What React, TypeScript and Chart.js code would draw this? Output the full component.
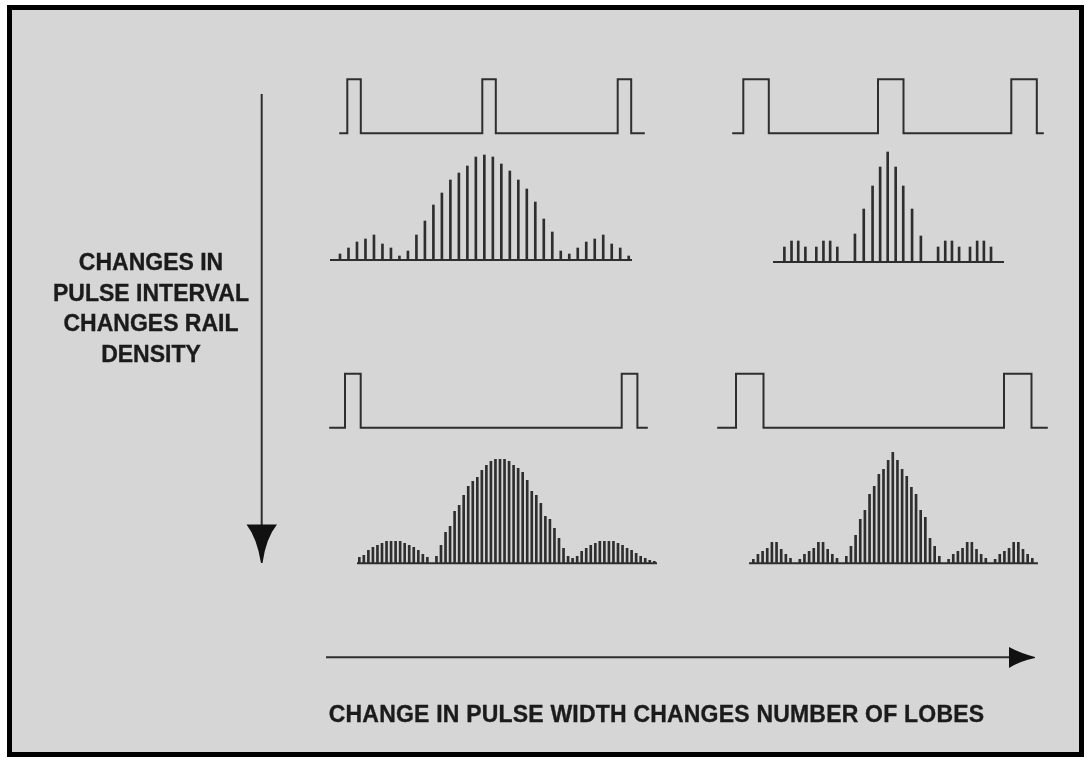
import React, { useEffect, useRef } from "react";
import { Chart, registerables } from "chart.js";
Chart.register(...registerables);

// ================= DATA =================
// Pulse trains: rising-edge times and pulse width (time units)
const tlPulseStarts = [0, 135, 270.4];
const tlPulseWidth = 13.5;
const trPulseStarts = [0, 134.7, 268];
const trPulseWidth = 25.5;
const blPulseStarts = [0, 276.7];
const blPulseWidth = 15.7;
const brPulseStarts = [0, 268];
const brPulseWidth = 27.5;

// Spectra: harmonic positions and line amplitudes
const tlHarmonics = [-17, -16, -15, -14, -13, -12, -11, -10, -9, -8, -7, -6, -5, -4, -3, -2, -1, 0, 1, 2, 3, 4, 5, 6, 7, 8, 9, 10, 11, 12, 13, 14, 15, 16, 17];
const tlAmplitudes = [6, 12, 18, 21, 25, 16, 12, 4, 9, 25, 39, 55, 67, 80, 87, 94, 103, 105, 103, 96, 89, 80, 71, 58, 41, 28, 9, 6, 12, 18, 21, 25, 16, 12, 4];

const trHarmonics = [-12.3, -11.45, -10.65, -9.8, -8.5, -7.65, -6.85, -6.0, -3.9, -2.85, -1.8, -0.9, 0, 0.95, 1.85, 2.9, 3.95, 6.0, 6.85, 7.65, 8.5, 9.8, 10.65, 11.45, 12.3];
const trAmplitudes = [15, 21, 21, 15, 15, 21, 21, 15, 28, 53, 76, 95, 110, 95, 76, 53, 26, 15, 21, 21, 15, 15, 21, 21, 15];

const blHarmonics = [0, 1, 2, 3, 4, 5, 6, 7, 8, 9, 10, 11, 12, 13, 14, 15, 16, 17, 18, 19, 20, 21, 22, 23, 24, 25, 26, 27, 28, 29, 30, 31, 32, 33, 34, 35, 36, 37, 38, 39, 40, 41, 42, 43, 44, 45, 46, 47, 48, 49, 50, 51, 52, 53, 54, 55, 56, 57, 58, 59, 60, 61, 62, 63, 64, 65];
const blAmplitudes = [
  6, 8, 13, 16, 18, 20, 22, 22, 22, 22, 20, 18, 16, 13, 9, 6,
  0,
  7, 18, 31, 37, 52, 58, 68, 77, 82, 86, 93, 98, 102, 104, 104, 104, 102, 98, 95, 91, 83, 72, 68, 60, 47, 44, 35, 25, 15, 7,
  5, 7, 12, 15, 18, 20, 22, 22, 22, 22, 20, 18, 15, 13, 10, 7, 5, 3, 2,
];

const brHarmonics = [0, 1, 2, 3, 4, 5, 6, 7, 8, 9, 10, 11, 12, 13, 14, 15, 16, 17, 18, 19, 20, 21, 22, 23, 24, 25, 26, 27, 28, 29, 30, 31, 32, 33, 34, 35, 36, 37, 38, 39, 40, 41, 42, 43, 44, 45, 46, 47, 48, 49, 50, 51, 52, 53, 54, 55, 56, 57, 58, 59, 60];
const brAmplitudes = [
  4, 9, 12, 15, 21, 21, 14, 9, 5,
  0,
  4, 9, 12, 15, 21, 21, 14, 9, 5,
  0,
  7, 17, 28, 44, 53, 69, 77, 89, 94, 103, 111, 103, 94, 87, 76, 69, 53, 46, 25, 17, 7,
  0,
  4, 9, 12, 15, 21, 21, 14, 9, 5,
  0,
  4, 9, 12, 15, 21, 21, 14, 9, 5,
];

const leftLabelLines = ["CHANGES IN", "PULSE INTERVAL", "CHANGES RAIL", "DENSITY"];
const bottomLabel = "CHANGE IN PULSE WIDTH CHANGES NUMBER OF LOBES";

// ================= STYLE / LAYOUT =================
const W = 1091;
const H = 763;
const BG = "#d6d6d6";
const INK = "#2e2e2e";
const FONT = "'Liberation Sans', Arial, sans-serif";

type Box = { left: number; top: number; width: number; height: number };

function axisRange(v0: number, p0: number, v1: number, p1: number, pStart: number, pEnd: number) {
  const k = (p1 - p0) / (v1 - v0);
  const a = v0 + (pStart - p0) / k;
  const b = v0 + (pEnd - p0) / k;
  return { min: Math.min(a, b), max: Math.max(a, b) };
}

const baselinePlugin = {
  id: "baseline",
  beforeDatasetsDraw(chart: any) {
    const { ctx, chartArea, scales } = chart;
    const y = scales.y.getPixelForValue(0);
    ctx.save();
    ctx.strokeStyle = INK;
    ctx.lineWidth = 2;
    ctx.beginPath();
    ctx.moveTo(chartArea.left, y);
    ctx.lineTo(chartArea.right, y);
    ctx.stroke();
    ctx.restore();
  },
};

const baseOptions = {
  animation: false,
  responsive: false,
  devicePixelRatio: 1,
  events: [],
  layout: { padding: 0 },
  plugins: { legend: { display: false }, tooltip: { enabled: false }, title: { display: false } },
};

function spectrumConfig(
  harmonics: number[],
  amps: number[],
  box: Box,
  xa: [number, number, number, number],
  baselineY: number
) {
  const xr = axisRange(xa[0], xa[1] - box.left, xa[2], xa[3] - box.left, 0, box.width);
  const yr = axisRange(0, baselineY - box.top, 100, baselineY - 100 - box.top, 0, box.height);
  return {
    type: "bar",
    data: {
      labels: harmonics,
      datasets: [
        {
          data: amps,
          backgroundColor: INK,
          borderWidth: 0,
          barThickness: 2,
        },
      ],
    },
    options: {
      ...baseOptions,
      scales: {
        x: { type: "linear", display: false, min: xr.min, max: xr.max, offset: false },
        y: { type: "linear", display: false, min: yr.min, max: yr.max },
      },
    },
    plugins: [baselinePlugin],
  };
}

function pulseTrace(starts: number[], width: number, tFrom: number, tTo: number) {
  const pts: { x: number; y: number }[] = [{ x: tFrom, y: 0 }];
  for (const s of starts) {
    pts.push({ x: s, y: 0 }, { x: s, y: 1 }, { x: s + width, y: 1 }, { x: s + width, y: 0 });
  }
  pts.push({ x: tTo, y: 0 });
  return pts;
}

function pulseConfig(starts: number[], width: number, box: Box, t0px: number, baseY: number, topY: number) {
  const xr = axisRange(0, t0px - box.left, 100, t0px + 100 - box.left, 0, box.width);
  const yr = axisRange(0, baseY - box.top, 1, topY - box.top, 0, box.height);
  const tFrom = xr.min + 0.2;
  const tTo = xr.max - 0.2;
  return {
    type: "line",
    data: {
      datasets: [
        {
          data: pulseTrace(starts, width, tFrom, tTo),
          borderColor: INK,
          borderWidth: 2,
          pointRadius: 0,
          tension: 0,
          fill: false,
          borderJoinStyle: "miter",
        },
      ],
    },
    options: {
      ...baseOptions,
      scales: {
        x: { type: "linear", display: false, min: xr.min, max: xr.max },
        y: { type: "linear", display: false, min: yr.min, max: yr.max },
      },
    },
  };
}

const decorPlugin = {
  id: "decor",
  beforeDraw(chart: any) {
    const ctx = chart.ctx as CanvasRenderingContext2D;
    ctx.save();
    ctx.fillStyle = "#ffffff";
    ctx.fillRect(0, 0, W, H);
    // frame
    ctx.fillStyle = "#000000";
    ctx.fillRect(7, 5, 1077, 752);
    ctx.fillStyle = BG;
    ctx.fillRect(12, 10, 1067, 742);
    // vertical arrow
    ctx.strokeStyle = INK;
    ctx.lineWidth = 2;
    ctx.beginPath();
    ctx.moveTo(261.7, 94);
    ctx.lineTo(261.7, 530);
    ctx.stroke();
    ctx.fillStyle = "#111111";
    ctx.beginPath();
    ctx.moveTo(246.5, 524.5);
    ctx.lineTo(277, 524.5);
    ctx.quadraticCurveTo(266, 538, 262.5, 563);
    ctx.lineTo(261, 563);
    ctx.quadraticCurveTo(257, 538, 246.5, 524.5);
    ctx.closePath();
    ctx.fill();
    // horizontal arrow
    ctx.beginPath();
    ctx.moveTo(326, 657.3);
    ctx.lineTo(1015, 657.3);
    ctx.stroke();
    ctx.beginPath();
    ctx.moveTo(1009, 647);
    ctx.quadraticCurveTo(1020, 653, 1035, 657);
    ctx.lineTo(1035, 658);
    ctx.quadraticCurveTo(1020, 661, 1009, 668);
    ctx.closePath();
    ctx.fill();
    ctx.restore();
  },
};

function stageConfig() {
  return {
    type: "line",
    data: { datasets: [] },
    options: {
      ...baseOptions,
      scales: { x: { type: "linear", display: false }, y: { type: "linear", display: false } },
    },
    plugins: [decorPlugin],
  };
}

function ChartCanvas({ box, make }: { box: Box; make: () => any }) {
  const ref = useRef<HTMLCanvasElement>(null);
  useEffect(() => {
    const chart = new Chart(ref.current as HTMLCanvasElement, make());
    return () => chart.destroy();
  }, []);
  return (
    <canvas
      ref={ref}
      width={box.width}
      height={box.height}
      style={{ position: "absolute", left: box.left, top: box.top, width: box.width, height: box.height }}
    />
  );
}

const stageBox: Box = { left: 0, top: 0, width: W, height: H };
const tlPulseBox: Box = { left: 339, top: 75, width: 306, height: 62 };
const trPulseBox: Box = { left: 732, top: 75, width: 312, height: 62 };
const blPulseBox: Box = { left: 329, top: 369, width: 319, height: 62 };
const brPulseBox: Box = { left: 717, top: 369, width: 331, height: 62 };
const tlSpecBox: Box = { left: 330, top: 140, width: 302, height: 124 };
const trSpecBox: Box = { left: 773, top: 140, width: 231, height: 126 };
const blSpecBox: Box = { left: 357, top: 445, width: 300, height: 122 };
const brSpecBox: Box = { left: 749, top: 440, width: 289, height: 127 };

export default function App() {
  const textStyle: React.CSSProperties = {
    position: "absolute",
    fontFamily: FONT,
    fontWeight: "bold",
    fontSize: 23,
    color: "#1b1b1b",
    textAlign: "center",
    whiteSpace: "nowrap",
    WebkitTextStroke: "0.35px #1b1b1b",
  };
  return (
    <div style={{ position: "fixed", left: 0, top: 0, width: W, height: H, overflow: "hidden", background: "#fff" }}>
      <ChartCanvas box={stageBox} make={stageConfig} />
      <ChartCanvas box={tlPulseBox} make={() => pulseConfig(tlPulseStarts, tlPulseWidth, tlPulseBox, 347.3, 133.3, 79.3)} />
      <ChartCanvas box={trPulseBox} make={() => pulseConfig(trPulseStarts, trPulseWidth, trPulseBox, 743.3, 133.3, 79.3)} />
      <ChartCanvas box={blPulseBox} make={() => pulseConfig(blPulseStarts, blPulseWidth, blPulseBox, 345, 427.7, 373.7)} />
      <ChartCanvas box={brPulseBox} make={() => pulseConfig(brPulseStarts, brPulseWidth, brPulseBox, 736, 427.7, 373.7)} />
      <ChartCanvas box={tlSpecBox} make={() => spectrumConfig(tlHarmonics, tlAmplitudes, tlSpecBox, [-17, 340, 17, 628.7], 260)} />
      <ChartCanvas box={trSpecBox} make={() => spectrumConfig(trHarmonics, trAmplitudes, trSpecBox, [0, 887.7, 10, 971.7], 262)} />
      <ChartCanvas box={blSpecBox} make={() => spectrumConfig(blHarmonics, blAmplitudes, blSpecBox, [0, 359.3, 65, 654.3], 563.3)} />
      <ChartCanvas box={brSpecBox} make={() => spectrumConfig(brHarmonics, brAmplitudes, brSpecBox, [0, 753.3, 60, 1032.3], 563.3)} />
      {leftLabelLines.map((t, i) => (
        <div key={t} style={{ ...textStyle, left: 1, width: 300, top: 247 + i * 30.67, lineHeight: "30.67px" }}>
          {t}
        </div>
      ))}
      <div style={{ ...textStyle, left: 256.5, width: 800, top: 699.3, lineHeight: "30px", letterSpacing: "0.2px" }}>
        {bottomLabel}
      </div>
    </div>
  );
}
